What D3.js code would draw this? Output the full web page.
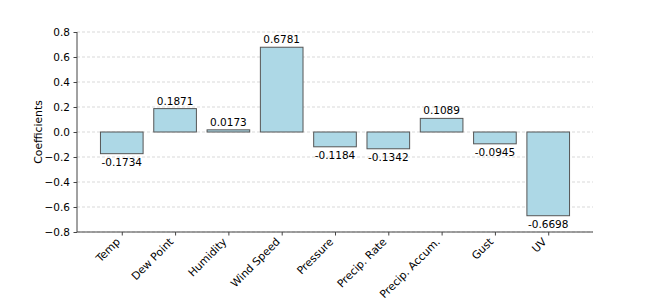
<!DOCTYPE html>
<html><head><meta charset="utf-8">
<script src="https://cdn.jsdelivr.net/npm/d3@7"></script>
<style>body{margin:0;background:#fff}svg{display:block}text{font-family:"DejaVu Sans",sans-serif}</style>
</head><body><svg id="c" width="655" height="307"></svg>
<script>
const categories = ["Temp","Dew Point","Humidity","Wind Speed","Pressure","Precip. Rate","Precip. Accum.","Gust","UV"];
const coefficients = [-0.1734,0.1871,0.0173,0.6781,-0.1184,-0.1342,0.1089,-0.0945,-0.6698];
const yTicks = [-0.8,-0.6,-0.4,-0.2,0.0,0.2,0.4,0.6,0.8];

const svg = d3.select("#c");
const L=77, R=593, T=32, B=232;
const x = d3.scaleLinear().domain([-0.84, categories.length-1+0.84]).range([L,R]);
const y = d3.scaleLinear().domain([-0.8,0.8]).range([B,T]);
const bw = x(0.8)-x(0);
const fmt = v => (v<0?"\u2212":"") + Math.abs(v).toFixed(1);

svg.append("g").selectAll("line").data(yTicks).join("line")
  .attr("x1",L).attr("x2",R).attr("y1",d=>y(d)).attr("y2",d=>y(d))
  .attr("stroke","#cfcfcf").attr("stroke-width",0.8).attr("stroke-dasharray","3,2");

svg.append("g").selectAll("rect").data(coefficients).join("rect")
  .attr("x",(d,i)=>x(i)-bw/2).attr("width",bw)
  .attr("y",d=>y(Math.max(0,d))).attr("height",d=>Math.abs(y(d)-y(0)))
  .attr("fill","#add8e6").attr("stroke","#555").attr("stroke-width",1);

svg.append("g").selectAll("text").data(coefficients).join("text")
  .attr("x",(d,i)=>x(i)).attr("y",d=>d>=0? y(d)-4 : y(d)+12.3)
  .attr("text-anchor","middle").attr("font-size",10.5).attr("fill","#000")
  .text(d=>d.toFixed(4));

const ya = svg.append("g").attr("transform",`translate(${L},0)`)
  .call(d3.axisLeft(y).tickValues(yTicks).tickFormat(fmt).tickSize(3.5).tickPadding(3.5));
ya.attr("font-family",null).attr("font-size",null);
ya.select(".domain").attr("stroke","#444").attr("d",`M0,${T}V${B}`);
ya.selectAll(".tick line").attr("stroke","#444");
ya.selectAll("text").attr("font-size",10.5).attr("fill","#000");

const xa = svg.append("g").attr("transform",`translate(0,${B})`)
  .call(d3.axisBottom(x).tickValues(d3.range(categories.length)).tickFormat(i=>categories[i]).tickSize(3.5));
xa.attr("font-family",null).attr("font-size",null);
xa.select(".domain").attr("stroke","#444").attr("d",`M${L},0H${R}`);
xa.selectAll(".tick line").attr("stroke","#444");
xa.selectAll("text").attr("font-size",10.8).attr("fill","#000")
  .attr("text-anchor","end").attr("dy",0).attr("y",0)
  .attr("transform","translate(-1.5,10.5) rotate(-45)");

svg.append("text").attr("transform",`translate(42,${(T+B)/2}) rotate(-90)`)
  .attr("text-anchor","middle").attr("font-size",10.8).text("Coefficients");
</script></body></html>
